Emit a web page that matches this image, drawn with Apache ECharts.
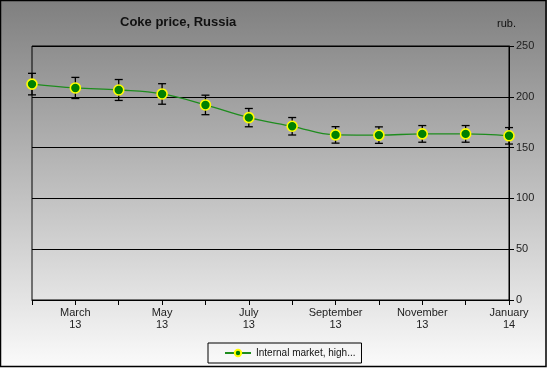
<!DOCTYPE html>
<html><head><meta charset="utf-8">
<script src="https://cdn.jsdelivr.net/npm/echarts@6/dist/echarts.min.js"></script>
<style>html,body{margin:0;padding:0;}#c{width:547px;height:368px;}</style>
</head><body><div id="c"></div>
<script>
var categories = ['February\n13','March\n13','April\n13','May\n13','June\n13','July\n13','August\n13','September\n13','October\n13','November\n13','December\n13','January\n14'];
var prices = [212.5, 208.7, 206.7, 202.8, 192, 179.5, 171, 162.5, 162.3, 163.5, 163.5, 161.6];
var errors = [10.6, 10.4, 10.3, 10.1, 9.6, 9.0, 8.6, 8.1, 8.1, 8.2, 8.2, 8.1];
var yTicks = [0, 50, 100, 150, 200, 250];
var seriesName = 'Internal market, high...';

var chart = echarts.init(document.getElementById('c'));
var errData = categories.map(function(c, i){ return [i, prices[i] - errors[i], prices[i] + errors[i]]; });
chart.setOption({
  animation: false,
  backgroundColor: {type:'linear', x:0, y:0, x2:0, y2:1, colorStops:[{offset:0,color:'#7f7f7f'},{offset:1,color:'#fbfbfb'}]},
  title: {text:'Coke price, Russia', left:115, top:11, textStyle:{fontFamily:'Liberation Sans, Arial', fontSize:13, fontWeight:'bold', color:'#111'}},
  graphic: [
    {type:'text', left:497, top:18, style:{text:'rub.', font:'11px "Liberation Sans", Arial', fill:'#111'}},
    {type:'rect', shape:{x:0.5, y:0.5, width:545.5, height:366}, style:{fill:null, stroke:'#000', lineWidth:1.5}}
  ],
  grid: {left:32, right:38, top:46, bottom:68, show:true, borderColor:'#000', borderWidth:1},
  legend: {
    data:[seriesName], left:208, top:343,
    borderColor:'#000', borderWidth:1, padding:[5,6,5,16], itemWidth:26, itemHeight:8, itemGap:0,
    textStyle:{fontFamily:'"Liberation Sans", Arial', fontSize:10, color:'#111'}
  },
  xAxis: {
    type:'category', data:categories, boundaryGap:false,
    axisLine:{show:true, lineStyle:{color:'#000'}},
    axisTick:{show:true, interval:0, length:5, lineStyle:{color:'#000'}},
    axisLabel:{interval:function(i){return i%2===1;}, color:'#222', fontFamily:'Liberation Sans, Arial', fontSize:11, lineHeight:12, margin:7},
    splitLine:{show:false}
  },
  yAxis: {
    type:'value', position:'right', min:0, max:250, interval:50,
    axisLine:{show:true, lineStyle:{color:'#000'}},
    axisTick:{show:true, length:5, lineStyle:{color:'#000'}},
    axisLabel:{color:'#222', fontFamily:'Liberation Sans, Arial', fontSize:11, margin:7,
      formatter:function(v){return yTicks.indexOf(v)>=0 ? String(v) : '';}},
    splitLine:{show:true, lineStyle:{color:'#000', width:1}}
  },
  series: [
    {
      type:'custom', name:'err', silent:true, z:3,
      renderItem:function(params, api){
        var x = api.value(0);
        var lo = api.coord([x, api.value(1)]);
        var hi = api.coord([x, api.value(2)]);
        var w = 4;
        var st = {stroke:'#000', lineWidth:1.3};
        return {type:'group', children:[
          {type:'line', shape:{x1:lo[0], y1:lo[1], x2:hi[0], y2:hi[1]}, style:st},
          {type:'line', shape:{x1:lo[0]-w, y1:lo[1], x2:lo[0]+w, y2:lo[1]}, style:st},
          {type:'line', shape:{x1:hi[0]-w, y1:hi[1], x2:hi[0]+w, y2:hi[1]}, style:st}
        ]};
      },
      encode:{x:0, y:[1,2]},
      data: errData
    },
    {
      type:'line', name:seriesName, data:prices, smooth:0.4, z:5,
      symbol:'circle', symbolSize:10,
      lineStyle:{color:'#1e8c1e', width:1.3},
      itemStyle:{color:'#008000', borderColor:'#ffff00', borderWidth:1.6}
    }
  ]
});
</script></body></html>
